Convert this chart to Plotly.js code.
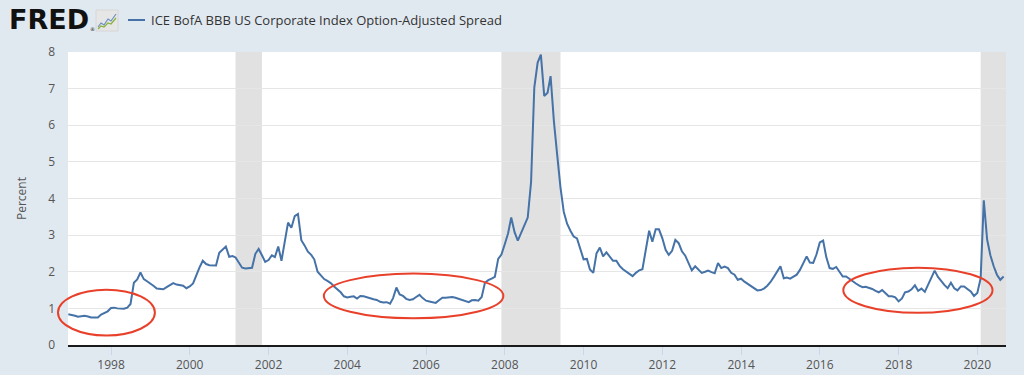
<!DOCTYPE html>
<html>
<head>
<meta charset="utf-8">
<script src="https://cdn.plot.ly/plotly-3.0.1.min.js"></script>
<style>
html,body{margin:0;padding:0;background:#e1e9f0;}
#chart{width:1024px;height:375px;}
</style>
</head>
<body>
<div id="chart"></div>
<script>
// ---------------- data (monthly, percent) ----------------
const seriesName = 'ICE BofA BBB US Corporate Index Option-Adjusted Spread';
const v1996 = [0.84]; // starts December 1996
const v1997 = [0.83, 0.80, 0.77, 0.79, 0.80, 0.78, 0.75, 0.75, 0.75, 0.83, 0.88, 0.92];
const v1998 = [1.01, 1.02, 1.00, 0.99, 0.99, 1.02, 1.12, 1.70, 1.79, 1.98, 1.80, 1.74];
const v1999 = [1.68, 1.61, 1.54, 1.52, 1.52, 1.58, 1.63, 1.69, 1.65, 1.63, 1.62, 1.55];
const v2000 = [1.60, 1.68, 1.90, 2.12, 2.30, 2.21, 2.18, 2.17, 2.17, 2.52, 2.62, 2.69];
const v2001 = [2.41, 2.43, 2.39, 2.23, 2.11, 2.09, 2.09, 2.11, 2.49, 2.62, 2.45, 2.27];
const v2002 = [2.32, 2.45, 2.40, 2.69, 2.30, 2.80, 3.34, 3.20, 3.52, 3.58, 2.86, 2.72];
const v2003 = [2.55, 2.46, 2.34, 2.00, 1.91, 1.80, 1.75, 1.69, 1.60, 1.52, 1.44, 1.33];
const v2004 = [1.30, 1.32, 1.33, 1.27, 1.34, 1.33, 1.30, 1.28, 1.25, 1.23, 1.18, 1.16];
const v2005 = [1.17, 1.13, 1.28, 1.57, 1.38, 1.34, 1.26, 1.23, 1.25, 1.31, 1.37, 1.28];
const v2006 = [1.21, 1.19, 1.17, 1.15, 1.22, 1.29, 1.29, 1.30, 1.31, 1.29, 1.26, 1.24];
const v2007 = [1.19, 1.17, 1.22, 1.23, 1.21, 1.31, 1.70, 1.77, 1.81, 1.86, 2.35, 2.47];
const v2008 = [2.75, 3.05, 3.48, 3.08, 2.85, 3.05, 3.28, 3.48, 4.45, 7.03, 7.71, 7.93];
const v2009 = [6.80, 6.89, 7.34, 6.10, 5.20, 4.30, 3.64, 3.31, 3.12, 2.96, 2.91, 2.60];
const v2010 = [2.34, 2.35, 2.06, 1.97, 2.50, 2.66, 2.42, 2.53, 2.40, 2.30, 2.30, 2.16];
const v2011 = [2.07, 2.00, 1.94, 1.88, 1.97, 2.04, 2.07, 2.60, 3.12, 2.82, 3.16, 3.16];
const v2012 = [2.92, 2.60, 2.46, 2.57, 2.87, 2.78, 2.56, 2.44, 2.24, 2.04, 2.15, 2.06];
const v2013 = [1.97, 2.00, 2.03, 1.99, 1.96, 2.24, 2.10, 2.14, 2.10, 1.97, 1.92, 1.78];
const v2014 = [1.81, 1.73, 1.67, 1.61, 1.55, 1.49, 1.50, 1.54, 1.62, 1.72, 1.86, 2.02];
const v2015 = [2.15, 1.82, 1.84, 1.81, 1.86, 1.92, 2.05, 2.25, 2.42, 2.25, 2.24, 2.47];
const v2016 = [2.80, 2.85, 2.40, 2.10, 2.08, 2.13, 2.00, 1.87, 1.87, 1.80, 1.74, 1.68];
const v2017 = [1.62, 1.58, 1.59, 1.57, 1.53, 1.48, 1.44, 1.50, 1.41, 1.33, 1.33, 1.30];
const v2018 = [1.19, 1.27, 1.44, 1.46, 1.52, 1.63, 1.48, 1.54, 1.45, 1.65, 1.87, 2.03];
const v2019 = [1.86, 1.74, 1.64, 1.55, 1.70, 1.55, 1.49, 1.60, 1.60, 1.53, 1.46, 1.34];
const v2020 = [1.42, 1.82, 3.95, 2.88, 2.45, 2.15, 1.92, 1.78, 1.87];

const tickYears = [1998, 2000, 2002, 2004, 2006, 2008, 2010, 2012, 2014, 2016, 2018, 2020];
const recessionStarts = ['2001-03-01', '2007-12-01', '2020-02-01'];
const recessionEnds   = ['2001-11-01', '2009-06-01', '2020-12-01'];
// highlighted periods (red ellipses), in data units
const ellipseX0 = ['1996-08-27', '2003-05-29', '2016-08-06'];
const ellipseX1 = ['1999-02-12', '2007-12-19', '2020-05-21'];
const ellipseY0 = [0.26, 0.73, 0.88];
const ellipseY1 = [1.51, 1.95, 2.11];

// ---------------- build series ----------------
const yearly = [[1996, v1996], [1997, v1997], [1998, v1998], [1999, v1999], [2000, v2000],
  [2001, v2001], [2002, v2002], [2003, v2003], [2004, v2004], [2005, v2005], [2006, v2006],
  [2007, v2007], [2008, v2008], [2009, v2009], [2010, v2010], [2011, v2011], [2012, v2012],
  [2013, v2013], [2014, v2014], [2015, v2015], [2016, v2016], [2017, v2017], [2018, v2018],
  [2019, v2019], [2020, v2020]];
const xs = [], ys = [];
yearly.forEach(([yr, vals]) => {
  const startM = (yr === 1996) ? 12 : 1;
  vals.forEach((v, i) => {
    const m = startM + i;
    xs.push(yr + '-' + String(m).padStart(2, '0') + '-01');
    ys.push(v);
  });
});

// ---------------- layout geometry ----------------
const W = 1024, H = 375;
const M = {l: 68, r: 18, t: 52, b: 30};
const pw = W - M.l - M.r, ph = H - M.t - M.b;
const px = x => (x - M.l) / pw;
const py = y => (H - M.b - y) / ph;
const xRange = ['1996-11-28', '2020-09-23'];
const yRange = [0, 8];
const dx = d => (Date.parse(d) - Date.parse(xRange[0])) / (Date.parse(xRange[1]) - Date.parse(xRange[0]));
const dy = v => (v - yRange[0]) / (yRange[1] - yRange[0]);

const shapes = [];
recessionStarts.forEach((s, i) => {
  shapes.push({type: 'rect', xref: 'x', yref: 'paper', x0: s, x1: recessionEnds[i], y0: 0, y1: 1,
    fillcolor: '#e1e1e1', line: {width: 0}, layer: 'below'});
});
ellipseX0.forEach((s, i) => {
  shapes.push({type: 'circle', xref: 'paper', yref: 'paper',
    x0: dx(s), x1: dx(ellipseX1[i]), y0: dy(ellipseY0[i]), y1: dy(ellipseY1[i]),
    line: {color: '#e8402a', width: 2}, fillcolor: 'rgba(0,0,0,0)', layer: 'above'});
});
// header: logo icon + legend sample
shapes.push({type: 'rect', xref: 'paper', yref: 'paper', x0: px(96), x1: px(118), y0: py(31), y1: py(10),
  fillcolor: '#e6e6e6', line: {color: '#d6d6d6', width: 1}});
const pth = pts => 'M ' + pts.map(p => px(p[0]) + ',' + py(p[1])).join(' L ');
shapes.push({type: 'path', xref: 'paper', yref: 'paper',
  path: pth([[98, 27], [101, 23], [104, 25], [108, 19], [111, 21], [116, 14]]),
  line: {color: '#6d8fc2', width: 1.2}});
shapes.push({type: 'path', xref: 'paper', yref: 'paper',
  path: pth([[98, 29], [101, 26], [104, 27], [108, 23], [111, 24], [116, 18]]),
  line: {color: '#8ab33a', width: 1.2}});
shapes.push({type: 'line', xref: 'paper', yref: 'paper', x0: px(128), x1: px(145), y0: py(20), y1: py(20),
  line: {color: '#4572a7', width: 2}});

const annotations = [
  {xref: 'paper', yref: 'paper', x: px(7), y: py(20), xanchor: 'left', yanchor: 'middle', showarrow: false,
   text: '<b>FRED</b>', font: {family: 'DejaVu Sans', size: 27, color: '#111'}},
  {xref: 'paper', yref: 'paper', x: px(88), y: py(29), xanchor: 'left', yanchor: 'middle', showarrow: false,
   text: '®', font: {family: 'DejaVu Sans', size: 5, color: '#111'}},
  {xref: 'paper', yref: 'paper', x: px(149), y: py(20), xanchor: 'left', yanchor: 'middle', showarrow: false,
   text: seriesName, font: {family: 'Open Sans', size: 13, color: '#333'}}
];

const tickFont = {family: 'Open Sans', size: 12, color: '#555'};
const layout = {
  width: W, height: H,
  paper_bgcolor: '#e1e9f0', plot_bgcolor: '#ffffff',
  margin: M, showlegend: false,
  xaxis: {
    type: 'date', range: xRange,
    tickvals: tickYears.map(y => y + '-01-01'), ticktext: tickYears.map(String),
    showgrid: false, zeroline: false,
    showline: true, linecolor: '#1a1a1a', linewidth: 2,
    ticks: 'outside', ticklen: 8, tickcolor: '#ccd6eb', tickwidth: 1,
    tickfont: tickFont, fixedrange: true
  },
  yaxis: {
    range: yRange, dtick: 1, tick0: 0,
    showgrid: true, gridcolor: '#e6e6e6', gridwidth: 1,
    zeroline: false, showline: false, ticks: '',
    ticklabelstandoff: 12, tickfont: tickFont, fixedrange: true,
    title: {text: 'Percent', font: {family: 'Open Sans', size: 12, color: '#555'}, standoff: 18}
  },
  shapes: shapes,
  annotations: annotations
};

const traces = [{
  type: 'scatter', mode: 'lines', name: seriesName,
  x: xs, y: ys,
  line: {color: '#4572a7', width: 2},
  hoverinfo: 'x+y'
}];

Plotly.newPlot('chart', traces, layout, {displayModeBar: false, staticPlot: true});
</script>
</body>
</html>
